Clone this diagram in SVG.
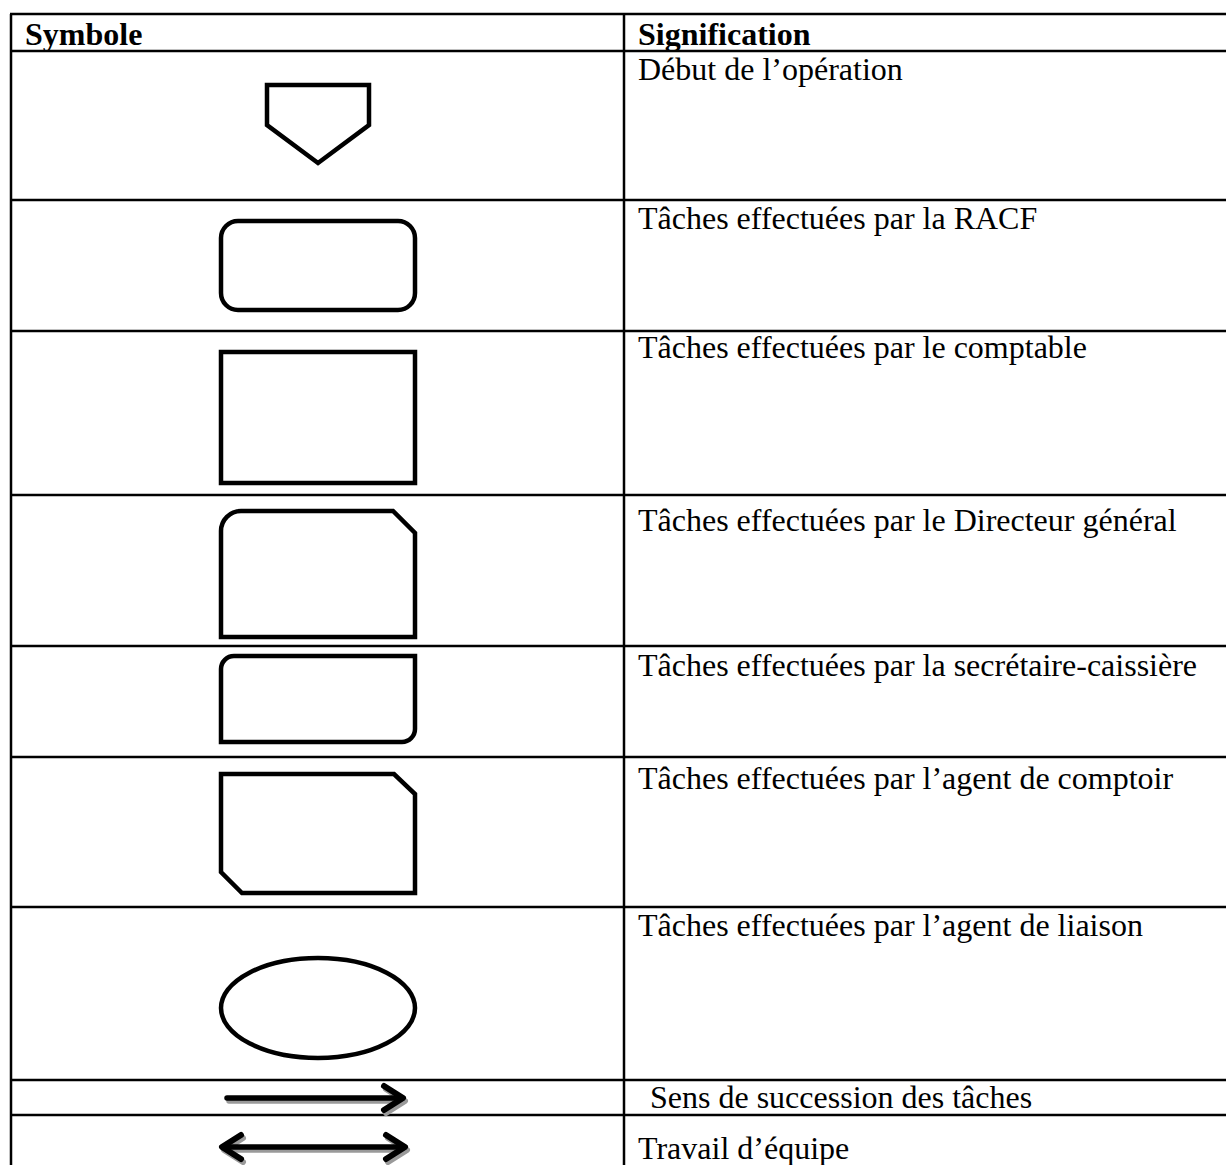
<svg xmlns="http://www.w3.org/2000/svg" width="1226" height="1165" viewBox="0 0 1226 1165">
  <style>
    .grid { stroke: #000; stroke-width: 2.5; fill: none; }
    .sym { stroke: #000; stroke-width: 4.5; fill: none; stroke-linejoin: miter; }
    .head { font-family: "Liberation Serif", "Times New Roman", serif; font-weight: bold; font-size: 32px; fill: #000; }
    .txt { font-family: "Liberation Serif", "Times New Roman", serif; font-size: 32px; fill: #000; }
    .shaft { stroke-width: 5.5; stroke-linecap: round; fill: none; }
    .tip { stroke-width: 6; stroke-linecap: round; stroke-linejoin: round; fill: none; }
  </style>
  <defs>
    <!-- one-way arrow used for task sequence -->
    <g id="arrowOne">
      <line class="shaft" x1="0" y1="0" x2="173" y2="0"/>
      <polyline class="tip" points="157,-12 176,0 157,12"/>
    </g>
    <!-- two-way arrow used for team work -->
    <g id="arrowTwo">
      <line class="shaft" x1="3" y1="0" x2="180" y2="0"/>
      <polyline class="tip" points="19,-12 0,0 19,12"/>
      <polyline class="tip" points="164,-12 183,0 164,12"/>
    </g>
  </defs>

  <rect width="1226" height="1165" fill="#fff"/>

  <!-- table grid -->
  <g id="table" class="grid">
    <line x1="11" y1="14" x2="11" y2="1165"/>
    <line x1="624" y1="14" x2="624" y2="1165"/>
    <line x1="10" y1="14" x2="1226" y2="14"/>
    <line x1="10" y1="51" x2="1226" y2="51"/>
    <line x1="10" y1="200" x2="1226" y2="200"/>
    <line x1="10" y1="331" x2="1226" y2="331"/>
    <line x1="10" y1="495" x2="1226" y2="495"/>
    <line x1="10" y1="646" x2="1226" y2="646"/>
    <line x1="10" y1="757" x2="1226" y2="757"/>
    <line x1="10" y1="907" x2="1226" y2="907"/>
    <line x1="10" y1="1080" x2="1226" y2="1080"/>
    <line x1="10" y1="1115" x2="1226" y2="1115"/>
  </g>

  <!-- column headers -->
  <g id="header">
    <text class="head" x="25" y="45">Symbole</text>
    <text class="head" x="638" y="45">Signification</text>
  </g>

  <g id="row-debut">
    <polygon class="sym" points="267,85 369,85 369,125 318,163 267,125"/>
    <text class="txt" x="638" y="80">Début de l’opération</text>
  </g>

  <g id="row-racf">
    <rect class="sym" x="221" y="221" width="194" height="89" rx="17"/>
    <text class="txt" x="638" y="229">Tâches effectuées par la RACF</text>
  </g>

  <g id="row-comptable">
    <rect class="sym" x="221" y="352" width="194" height="131"/>
    <text class="txt" x="638" y="358">Tâches effectuées par le comptable</text>
  </g>

  <g id="row-directeur">
    <path class="sym" d="M221,637 V531 A20,20 0 0 1 241,511 H393 L415,533 V637 Z"/>
    <text class="txt" x="638" y="531">Tâches effectuées par le Directeur général</text>
  </g>

  <g id="row-secretaire">
    <path class="sym" d="M221,742 V669 A13,13 0 0 1 234,656 H415 V729 A13,13 0 0 1 402,742 Z"/>
    <text class="txt" x="638" y="676">Tâches effectuées par la secrétaire-caissière</text>
  </g>

  <g id="row-comptoir">
    <path class="sym" d="M221,774 H394 L415,794 V893 H242 L221,872 Z"/>
    <text class="txt" x="638" y="789">Tâches effectuées par l’agent de comptoir</text>
  </g>

  <g id="row-liaison">
    <ellipse class="sym" cx="318" cy="1008" rx="97" ry="50"/>
    <text class="txt" x="638" y="936">Tâches effectuées par l’agent de liaison</text>
  </g>

  <!-- arrow symbols: gray drop shadow under the black stroke -->
  <g id="connectors">
    <g id="row-succession">
      <use href="#arrowOne" x="229" y="1101" stroke="#9a9a9a"/>
      <use href="#arrowOne" x="227" y="1098" stroke="#000"/>
    </g>
    <g id="row-equipe">
      <use href="#arrowTwo" x="224" y="1150" stroke="#9a9a9a"/>
      <use href="#arrowTwo" x="222" y="1147" stroke="#000"/>
    </g>
  </g>

  <g id="arrow-labels">
    <text class="txt" x="650" y="1108">Sens de succession des tâches</text>
    <text class="txt" x="638" y="1159">Travail d’équipe</text>
  </g>
</svg>
